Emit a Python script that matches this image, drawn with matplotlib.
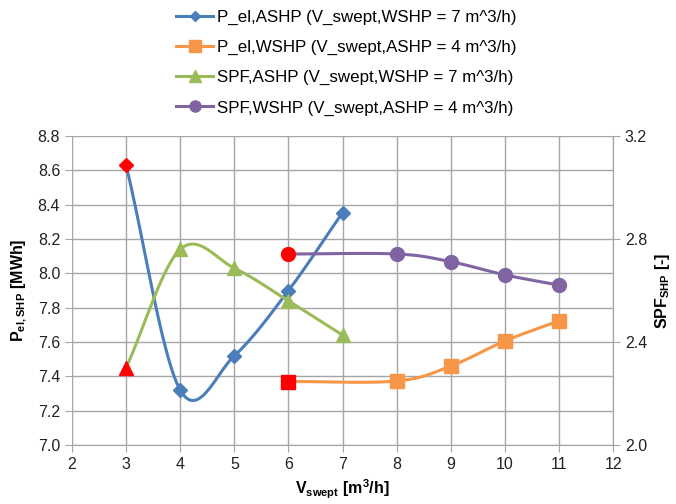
import numpy as np
import matplotlib.pyplot as plt

plt.rcParams['font.family'] = ['Liberation Sans', 'DejaVu Sans']

# data
x_ashp = [3, 4, 5, 6, 7]
x_wshp = [6, 8, 9, 10, 11]
pel_ashp = [8.63, 7.32, 7.52, 7.90, 8.354]
pel_wshp = [7.37, 7.373, 7.46, 7.606, 7.724]
spf_ashp = [2.30, 2.76, 2.687, 2.56, 2.427]
spf_wshp = [2.742, 2.742, 2.712, 2.661, 2.621]

labels = ["P_el,ASHP (V_swept,WSHP = 7 m^3/h)",
          "P_el,WSHP (V_swept,ASHP = 4 m^3/h)",
          "SPF,ASHP (V_swept,WSHP = 7 m^3/h)",
          "SPF,WSHP (V_swept,ASHP = 4 m^3/h)"]
colors = ["#4a7ebb", "#f79646", "#9bbb59", "#8064a2"]
markers = ["D", "s", "^", "o"]
msizes = [7, 10, 10, 10]


def smooth(x, y, n=30):
    # Excel-like smoothed line (Catmull-Rom through the points)
    x = np.asarray(x, float)
    y = np.asarray(y, float)
    px = np.concatenate([[2 * x[0] - x[1]], x, [2 * x[-1] - x[-2]]])
    py = np.concatenate([[2 * y[0] - y[1]], y, [2 * y[-1] - y[-2]]])
    xs, ys = [], []
    t = np.linspace(0, 1, n)
    for i in range(1, len(px) - 2):
        for p, out in ((px, xs), (py, ys)):
            p0, p1, p2, p3 = p[i - 1], p[i], p[i + 1], p[i + 2]
            out.extend(0.5 * (2 * p1 + (-p0 + p2) * t
                              + (2 * p0 - 5 * p1 + 4 * p2 - p3) * t ** 2
                              + (-p0 + 3 * p1 - 3 * p2 + p3) * t ** 3))
    return xs, ys


fig = plt.figure(figsize=(6.76, 5.04), dpi=100)
ax = fig.add_axes([0.1065, 0.117, 0.8005, 0.613])
ax2 = ax.twinx()

series = [(ax, x_ashp, pel_ashp), (ax, x_wshp, pel_wshp),
          (ax2, x_ashp, spf_ashp), (ax2, x_wshp, spf_wshp)]
handles = []
for (a, xs, ys), c, m, ms, lab in zip(series, colors, markers, msizes, labels):
    sx, sy = smooth(xs, ys)
    a.plot(sx, sy, color=c, lw=2.2, zorder=3)
    a.plot(xs[1:], ys[1:], ls='none', marker=m, ms=ms, color=c, zorder=4)
    a.plot(xs[:1], ys[:1], ls='none', marker=m, ms=ms, color='red', zorder=5)
    h, = ax.plot([], [], color=c, lw=2.2, marker=m, ms=ms * 0.8)
    handles.append(h)

ax.set_xlim(2, 12)
ax.set_ylim(7.0, 8.8)
ax2.set_ylim(2.0, 3.2)
ax.set_xticks(range(2, 13))
ax.set_yticks(np.arange(7.0, 8.81, 0.2))
ax.yaxis.set_major_formatter(plt.FormatStrFormatter('%.1f'))
ax2.set_yticks([2.0, 2.4, 2.8, 3.2])
ax2.yaxis.set_major_formatter(plt.FormatStrFormatter('%.1f'))
ax.grid(True, color='#a6a6a6', lw=1)
ax.set_axisbelow(True)

for a in (ax, ax2):
    for s in ('top', 'left'):
        a.spines[s].set_visible(False)
    a.spines['bottom'].set_color('#a6a6a6')
    a.spines['right'].set_color('#a6a6a6')
    a.tick_params(colors='#a6a6a6', labelcolor='#222222', labelsize=11.5,
                  length=5)
ax2.spines['right'].set_visible(True)

ax.set_xlabel(r'V$_{\mathregular{swept}}$ [m$^{\mathregular{3}}$/h]',
              fontsize=11.5, fontweight='bold', labelpad=4)
ax.set_ylabel(r'P$_{\mathregular{el,SHP}}$ [MWh]', fontsize=11.5,
              fontweight='bold', labelpad=6)
ax2.set_ylabel(r'SPF$_{\mathregular{SHP}}$ [-]', fontsize=11.5,
               fontweight='bold', labelpad=4)

fig.legend(handles, labels, loc='upper left', bbox_to_anchor=(0.238, 1.01),
           frameon=False, fontsize=12.2, handlelength=2.2, handletextpad=0.2,
           labelspacing=0.88)

fig.savefig('out.png', dpi=100)
